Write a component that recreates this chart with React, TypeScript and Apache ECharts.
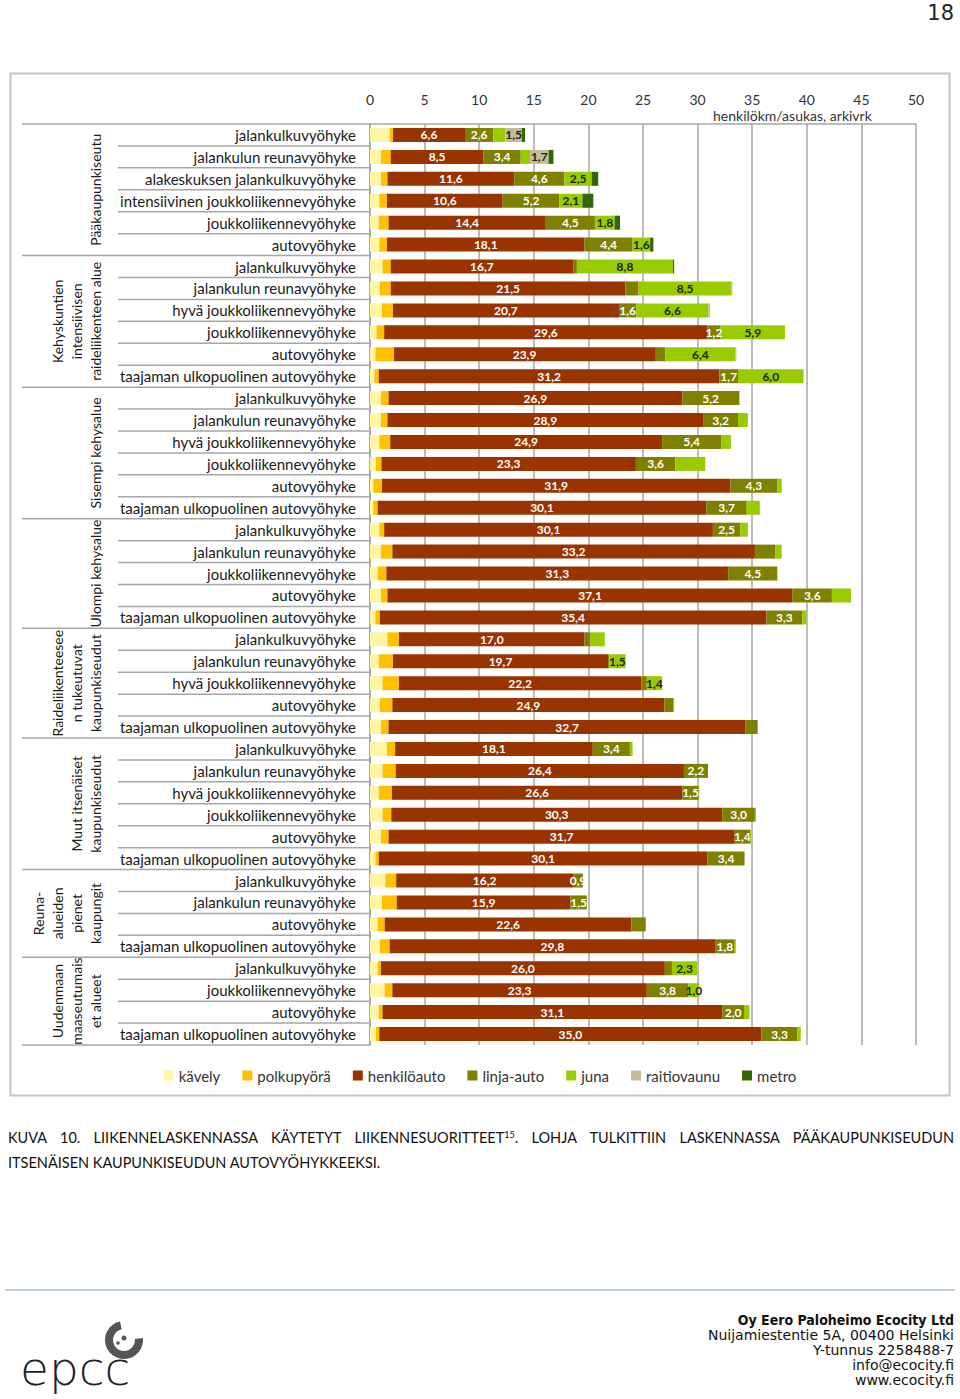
import React, { useEffect, useRef } from "react";
import * as echarts from "echarts";

// ---------- DATA ----------
const categories = [
  "jalankulkuvyöhyke", "jalankulun reunavyöhyke", "alakeskuksen jalankulkuvyöhyke", "intensiivinen joukkoliikennevyöhyke", "joukkoliikennevyöhyke", "autovyöhyke",
  "jalankulkuvyöhyke", "jalankulun reunavyöhyke", "hyvä joukkoliikennevyöhyke", "joukkoliikennevyöhyke", "autovyöhyke", "taajaman ulkopuolinen autovyöhyke",
  "jalankulkuvyöhyke", "jalankulun reunavyöhyke", "hyvä joukkoliikennevyöhyke", "joukkoliikennevyöhyke", "autovyöhyke", "taajaman ulkopuolinen autovyöhyke",
  "jalankulkuvyöhyke", "jalankulun reunavyöhyke", "joukkoliikennevyöhyke", "autovyöhyke", "taajaman ulkopuolinen autovyöhyke",
  "jalankulkuvyöhyke", "jalankulun reunavyöhyke", "hyvä joukkoliikennevyöhyke", "autovyöhyke", "taajaman ulkopuolinen autovyöhyke",
  "jalankulkuvyöhyke", "jalankulun reunavyöhyke", "hyvä joukkoliikennevyöhyke", "joukkoliikennevyöhyke", "autovyöhyke", "taajaman ulkopuolinen autovyöhyke",
  "jalankulkuvyöhyke", "jalankulun reunavyöhyke", "autovyöhyke", "taajaman ulkopuolinen autovyöhyke",
  "jalankulkuvyöhyke", "joukkoliikennevyöhyke", "autovyöhyke", "taajaman ulkopuolinen autovyöhyke",
];

const groupLabels = [
  ["Pääkaupunkiseutu"],
  ["Kehyskuntien", "intensiivisen", "raideliikenteen alue"],
  ["Sisempi kehysalue"],
  ["Ulompi kehysalue"],
  ["Raideliikenteesee", "n tukeutuvat", "kaupunkiseudut"],
  ["Muut itsenäiset", "kaupunkiseudut"],
  ["Reuna-", "alueiden", "pienet", "kaupungit"],
  ["Uudenmaan", "maaseutumais", "et alueet"],
];
const groupSizes = [6, 6, 6, 5, 5, 6, 4, 4];

const seriesNames = ["kävely", "polkupyörä", "henkilöauto", "linja-auto", "juna", "raitiovaunu", "metro"];

const kavely = [1.8, 1.0, 1.0, 0.85, 0.8, 0.85, 1.15, 0.9, 1.1, 0.6, 0.5, 0.4, 1.0, 1.0, 0.85, 0.55, 0.3, 0.3, 0.85, 1.0, 0.7, 1.0, 0.5, 1.6, 0.8, 1.15, 0.9, 1.0, 1.55, 1.15, 0.8, 1.15, 1.0, 0.5, 1.4, 1.1, 0.7, 0.9, 0.7, 1.35, 0.8, 0.55];
const polkupyora = [0.3, 0.9, 0.6, 0.7, 0.9, 0.7, 0.75, 1.0, 1.0, 0.7, 1.7, 0.4, 0.7, 0.6, 1.0, 0.5, 0.8, 0.4, 0.45, 1.05, 0.8, 0.6, 0.4, 1.05, 1.3, 1.5, 1.15, 0.7, 0.75, 1.2, 1.2, 0.8, 0.7, 0.3, 1.0, 1.35, 0.65, 0.9, 0.3, 0.7, 0.35, 0.3];
const henkiloauto = [6.6, 8.5, 11.6, 10.6, 14.4, 18.1, 16.7, 21.5, 20.7, 29.6, 23.9, 31.2, 26.9, 28.9, 24.9, 23.3, 31.9, 30.1, 30.1, 33.2, 31.3, 37.1, 35.4, 17.0, 19.7, 22.2, 24.9, 32.7, 18.1, 26.4, 26.6, 30.3, 31.7, 30.1, 16.2, 15.9, 22.6, 29.8, 26.0, 23.3, 31.1, 35.0];
const linjaauto = [2.6, 3.4, 4.6, 5.2, 4.5, 4.4, 0.35, 1.2, 1.6, 1.2, 0.95, 1.7, 5.2, 3.2, 5.4, 3.6, 4.3, 3.7, 2.5, 1.85, 4.5, 3.6, 3.3, 0.55, 0.1, 0.5, 0.8, 1.1, 3.4, 2.2, 1.5, 3.0, 1.4, 3.4, 0.9, 1.5, 1.3, 1.8, 0.65, 3.8, 2.0, 3.3];
const juna = [1.1, 0.85, 2.5, 2.1, 1.8, 1.6, 8.8, 8.5, 6.6, 5.9, 6.4, 6.0, 0.05, 0.9, 0.9, 2.75, 0.4, 1.2, 0.7, 0.6, 0, 1.75, 0.35, 1.3, 1.5, 1.4, 0.1, 0, 0.25, 0, 0.05, 0.1, 0.1, 0, 0, 0, 0, 0.1, 2.3, 1.0, 0.5, 0.3];
const raitiovaunu = [1.5, 1.7, 0, 0, 0, 0, 0, 0.1, 0.15, 0, 0.1, 0, 0, 0, 0, 0, 0, 0, 0, 0, 0, 0, 0, 0, 0, 0, 0, 0, 0, 0, 0, 0, 0, 0, 0, 0, 0, 0, 0, 0, 0, 0];
const metro = [0.3, 0.45, 0.6, 1.0, 0.5, 0.3, 0.1, 0, 0, 0, 0, 0, 0, 0, 0, 0, 0, 0, 0, 0, 0, 0, 0, 0, 0, 0, 0, 0, 0, 0, 0, 0, 0, 0, 0, 0, 0, 0, 0, 0, 0, 0];

// which values carry a printed value label in the original (1 = printed)
const linjaPrinted = [1, 1, 1, 1, 1, 1, 0, 0, 1, 1, 0, 1, 1, 1, 1, 1, 1, 1, 1, 0, 1, 1, 1, 0, 0, 0, 0, 0, 1, 1, 1, 1, 1, 1, 1, 1, 0, 1, 0, 1, 1, 1];
const junaPrinted = [0, 0, 1, 1, 1, 1, 1, 1, 1, 1, 1, 1, 0, 0, 0, 0, 0, 0, 0, 0, 0, 0, 0, 0, 1, 1, 0, 0, 0, 0, 0, 0, 0, 0, 0, 0, 0, 0, 1, 1, 0, 0];
const raitioPrinted = [1, 1, 0, 0, 0, 0, 0, 0, 0, 0, 0, 0, 0, 0, 0, 0, 0, 0, 0, 0, 0, 0, 0, 0, 0, 0, 0, 0, 0, 0, 0, 0, 0, 0, 0, 0, 0, 0, 0, 0, 0, 0];

const xMin = 0;
const xMax = 50;
const xInterval = 5;
const axisUnit = "henkilökm/asukas, arkivrk";

const footerLines = [
  "Oy Eero Paloheimo Ecocity Ltd",
  "Nuijamiestentie 5A, 00400 Helsinki",
  "Y-tunnus 2258488-7",
  "info@ecocity.fi",
  "www.ecocity.fi",
];

// ---------- STYLE ----------
const colors = ["#FFF6A3", "#FFC000", "#993300", "#808000", "#99CC00", "#C4BD97", "#336600"];
const FONT = "Lato, 'Open Sans', sans-serif";
const GRID = "#a6a6a6";

export default function App() {
  const ref = useRef<HTMLDivElement>(null);

  useEffect(() => {
    document.body.style.margin = "0";
    const chart = echarts.init(ref.current!, null, { renderer: "svg" });
    const fmt = (v: number) => v.toFixed(1).replace(".", ",");

    const mk = (vals: number[], flags: number[] | null, color: string) =>
      vals.map((v, i) => ({
        value: v,
        label: { show: flags ? flags[i] === 1 && v > 0 : false, color },
      }));

    const dataSets = [
      mk(kavely, null, "#fff"),
      mk(polkupyora, null, "#fff"),
      mk(henkiloauto, henkiloauto.map(() => 1), "#ffffff"),
      mk(linjaauto, linjaPrinted, "#ffffff"),
      mk(juna, junaPrinted, "#1b2600"),
      mk(raitiovaunu, raitioPrinted, "#222222"),
      mk(metro, null, "#fff"),
    ];

    const option: any = {
      animation: false,
      textStyle: { fontFamily: FONT },
      grid: { left: 370, top: 124, width: 546, height: 921, containLabel: false },
      xAxis: {
        type: "value",
        position: "top",
        min: xMin,
        max: xMax,
        interval: xInterval,
        axisLine: { show: true, lineStyle: { color: GRID, width: 1.5 } },
        axisTick: { show: false },
        axisLabel: { fontSize: 14, color: "#333", margin: 18, fontFamily: FONT },
        splitLine: { show: true, lineStyle: { color: GRID, width: 1.5 } },
      },
      yAxis: {
        type: "category",
        inverse: true,
        data: categories,
        axisLine: { show: true, lineStyle: { color: GRID, width: 1.5 } },
        axisTick: { show: false },
        axisLabel: { fontSize: 15, color: "#1a1a1a", margin: 14, fontFamily: FONT, interval: 0 },
      },
      legend: {
        data: seriesNames,
        top: 1063,
        left: "center",
        itemWidth: 10,
        itemHeight: 10,
        itemGap: 22,
        icon: "rect",
        textStyle: { fontSize: 15, color: "#333", fontFamily: FONT },
      },
      series: seriesNames.map((name, k) => ({
        name,
        type: "bar",
        stack: "total",
        barWidth: 14,
        itemStyle: { color: colors[k] },
        label: {
          show: false,
          position: "inside",
          fontSize: 12,
          fontWeight: "bold",
          fontFamily: FONT,
          formatter: (p: any) => fmt(p.value),
        },
        data: dataSets[k],
      })),
    };
    chart.setOption(option);

    // --- decorations computed from the axes ---
    const yPix = (i: number) => chart.convertToPixel({ yAxisIndex: 0 }, i) as number;
    const x0 = chart.convertToPixel({ xAxisIndex: 0 }, xMin) as number;
    const band = yPix(1) - yPix(0);
    const n = categories.length;
    const els: any[] = [];

    const groupStarts: number[] = [];
    let acc = 0;
    groupSizes.forEach((s) => {
      groupStarts.push(acc);
      acc += s;
    });

    for (let i = 0; i <= n; i++) {
      const y = i < n ? yPix(i) - band / 2 : yPix(n - 1) + band / 2;
      const isGroup = i === n || groupStarts.indexOf(i) >= 0;
      els.push({
        type: "line",
        shape: { x1: isGroup ? 22 : 118, y1: y, x2: x0, y2: y },
        style: { stroke: GRID, lineWidth: 1.5 },
        silent: true,
      });
    }

    groupLabels.forEach((lines, g) => {
      const s = groupStarts[g];
      const yc = (yPix(s) + yPix(s + groupSizes[g] - 1)) / 2;
      lines.forEach((t, j) => {
        els.push({
          type: "text",
          x: 95 - (lines.length - 1 - j) * 19,
          y: yc,
          rotation: Math.PI / 2,
          style: { text: t, fontSize: 14, fill: "#1a1a1a", fontFamily: FONT, align: "center", verticalAlign: "middle" },
        });
      });
    });

    // axis unit
    els.push({
      type: "text",
      x: 713,
      y: 115,
      style: { text: axisUnit, fontSize: 14, fill: "#333", fontFamily: FONT, verticalAlign: "middle" },
    });

    // frame
    els.push({
      type: "rect",
      shape: { x: 10.5, y: 73.5, width: 939, height: 1022 },
      style: { fill: "none", stroke: "#bcc7d2", lineWidth: 2 },
      silent: true,
      z: -1,
    });

    // page number
    els.push({
      type: "text",
      x: 954,
      y: 13,
      style: { text: "18", fontSize: 21, fill: "#222", fontFamily: "'DejaVu Sans', sans-serif", align: "right", verticalAlign: "middle" },
    });

    // footer line
    els.push({
      type: "line",
      shape: { x1: 5, y1: 1290, x2: 955, y2: 1290 },
      style: { stroke: "#a9c6cf", lineWidth: 1.5 },
    });

    footerLines.forEach((t, i) => {
      els.push({
        type: "text",
        x: 954,
        y: 1320 + i * 15,
        style: {
          text: t,
          fontSize: i === 0 ? 14 : 14,
          fontWeight: i === 0 ? "bold" : "normal",
          fill: "#111",
          fontFamily: i === 0 ? "'DejaVu Sans Condensed', 'DejaVu Sans', sans-serif" : "'DejaVu Sans', sans-serif",
          align: "right",
          verticalAlign: "middle",
        },
      });
    });

    // logo
    els.push({
      type: "arc",
      shape: { cx: 124, cy: 1340, r: 15, startAngle: -0.1, endAngle: 4.5, clockwise: true },
      style: { stroke: "#555", lineWidth: 8, fill: "none" },
    });
    els.push({ type: "circle", shape: { cx: 124, cy: 1338, r: 2.5 }, style: { fill: "#555" } });
    els.push({ type: "circle", shape: { cx: 118, cy: 1343, r: 1.8 }, style: { fill: "#555" } });
    els.push({
      type: "text",
      x: 20,
      y: 1368,
      style: { text: "epcc", fontSize: 47, fontWeight: 300, fill: "#222", fontFamily: "'DejaVu Sans', sans-serif", verticalAlign: "middle", letterSpacing: 4 } as any,
    });

    chart.setOption({ graphic: { elements: els } });

    return () => chart.dispose();
  }, []);

  const capStyle: React.CSSProperties = {
    position: "absolute",
    left: 8,
    width: 946,
    fontFamily: FONT,
    fontSize: 14.5,
    color: "#111",
    lineHeight: "25px",
    whiteSpace: "nowrap",
  };

  return (
    <div style={{ position: "relative", width: 960, height: 1399, overflow: "hidden", background: "#fff" }}>
      <div ref={ref} style={{ position: "absolute", left: 0, top: 0, width: 960, height: 1399 }} />
      <div style={{ ...capStyle, top: 1125, textAlign: "justify", textAlignLast: "justify" as any }}>
        KUVA 10. LIIKENNELASKENNASSA KÄYTETYT LIIKENNESUORITTEET<span style={{ fontSize: 9, position: "relative", top: -5, lineHeight: 0 }}>15</span>. LOHJA TULKITTIIN LASKENNASSA PÄÄKAUPUNKISEUDUN
      </div>
      <div style={{ ...capStyle, top: 1150 }}>ITSENÄISEN KAUPUNKISEUDUN AUTOVYÖHYKKEEKSI.</div>
    </div>
  );
}
